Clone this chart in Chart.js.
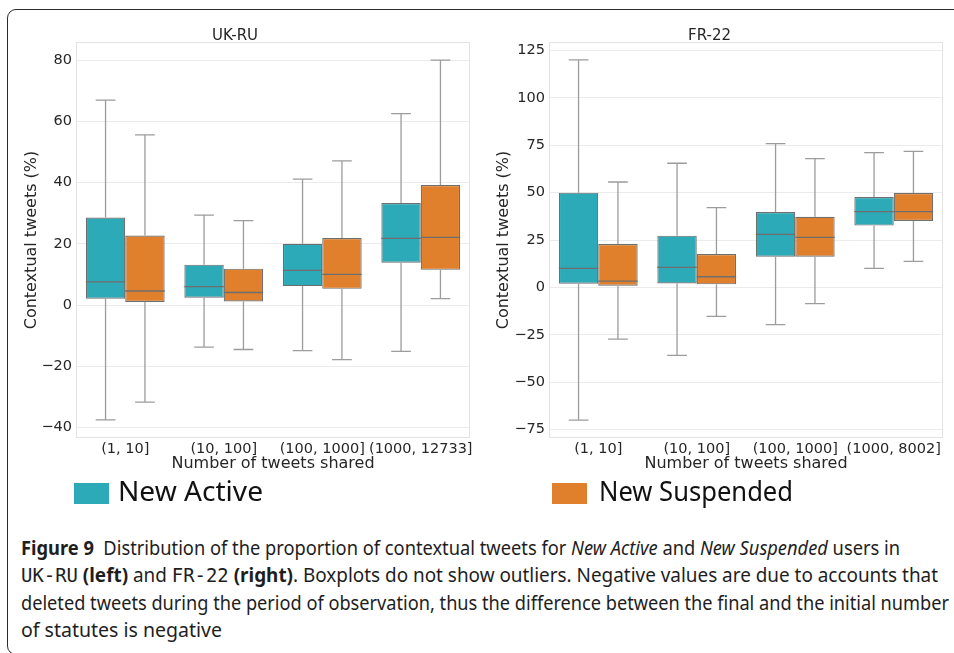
<!DOCTYPE html>
<html><head><meta charset="utf-8">
<script src="https://cdn.jsdelivr.net/npm/chart.js@4.4.0/dist/chart.umd.min.js"></script>
<style>
html,body{margin:0;padding:0;background:#fff;width:954px;height:653px;overflow:hidden;position:relative;}
#frame{position:absolute;left:7px;top:9px;width:1000px;height:646px;border:1.5px solid #2b2b2b;border-radius:9px;box-sizing:border-box;}
canvas{position:absolute;top:0;}
#c1{left:0px}
#c2{left:476px}
.sw{position:absolute;width:35px;height:21px;}
.lt{position:absolute;font-family:"Noto Sans";font-size:28px;line-height:28px;white-space:nowrap;color:#111;transform-origin:0 0;}
.cap{position:absolute;left:21px;font-family:"Noto Sans";font-size:19px;line-height:27px;white-space:nowrap;color:#1e1e1e;transform-origin:0 0;}
.mono{font-family:"DejaVu Sans Mono";}
</style></head>
<body>
<div id="frame"></div>
<canvas id="c1" width="480" height="480"></canvas>
<canvas id="c2" width="478" height="480"></canvas>

<div class="sw" style="left:74px;top:483px;background:#2caab8"></div>
<div class="lt" data-w="145" style="left:118px;top:476px">New Active</div>
<div class="sw" style="left:552px;top:483px;background:#e0802c"></div>
<div class="lt" data-w="194" style="left:599px;top:476px">New Suspended</div>

<div class="cap" data-w="879" style="top:535px"><b>Figure 9</b>&nbsp; Distribution of the proportion of contextual tweets for <i>New Active</i> and <i>New Suspended</i> users in</div>
<div class="cap" data-w="917" style="top:562px"><span class="mono">UK-RU</span> <b>(left)</b> and <span class="mono">FR-22</span> <b>(right)</b>. Boxplots do not show outliers. Negative values are due to accounts that</div>
<div class="cap" data-w="928" style="top:590px">deleted tweets during the period of observation, thus the difference between the final and the initial number</div>
<div class="cap" data-w="201" style="top:617px">of statutes is negative</div>

<script>
// ---- data ----
const ukCategories = ['(1, 10]', '(10, 100]', '(100, 1000]', '(1000, 12733]'];
const frCategories = ['(1, 10]', '(10, 100]', '(100, 1000]', '(1000, 8002]'];
const seriesNames = ['New Active', 'New Suspended'];

const ukActiveMin = [-37.5, -13.7, -14.9, -15.1];
const ukActiveQ1  = [2.1, 2.4, 6.2, 13.8];
const ukActiveMed = [7.6, 6.0, 11.3, 21.8];
const ukActiveQ3  = [28.6, 13.2, 20.0, 33.3];
const ukActiveMax = [66.9, 29.4, 41.1, 62.5];

const ukSuspMin = [-31.7, -14.5, -17.8, 2.1];
const ukSuspQ1  = [1.0, 1.2, 5.3, 11.5];
const ukSuspMed = [4.6, 4.1, 10.0, 22.1];
const ukSuspQ3  = [22.7, 11.9, 21.9, 39.2];
const ukSuspMax = [55.6, 27.6, 47.1, 80.0];

const frActiveMin = [-70.1, -35.9, -19.7, 10.0];
const frActiveQ1  = [1.9, 2.1, 16.2, 32.6];
const frActiveMed = [10.0, 10.6, 28.0, 40.0];
const frActiveQ3  = [50.0, 27.3, 39.8, 47.7];
const frActiveMax = [120.1, 65.5, 75.9, 71.1];

const frSuspMin = [-27.3, -15.3, -8.6, 13.7];
const frSuspQ1  = [0.9, 1.6, 16.2, 35.0];
const frSuspMed = [3.3, 5.6, 26.4, 40.0];
const frSuspQ3  = [22.9, 17.6, 37.3, 49.8];
const frSuspMax = [55.6, 42.1, 68.0, 71.8];

const ukTicks = [-40, -20, 0, 20, 40, 60, 80];
const frTicks = [-75, -50, -25, 0, 25, 50, 75, 100, 125];
const ukRange = [-43.4, 85.9];
const frRange = [-79.5, 129.5];

// ---- styles ----
const FONT = 'DejaVu Sans';
const TXT = '#262626';
const colors = ['#2caab8', '#e0802c'];
const boxEdge = '#6e6e6e';
const whiskerColor = '#9c9c9c';

// fit caption/legend widths
document.querySelectorAll('[data-w]').forEach(el => {
  const nat = el.getBoundingClientRect().width;
  el.style.transform = 'scaleX(' + (parseFloat(el.dataset.w) / nat) + ')';
});

const boxPlugin = {
  id: 'boxExtras',
  beforeDatasetsDraw(chart) {
    const a = chart.chartArea, ctx = chart.ctx;
    ctx.save();
    ctx.strokeStyle = '#e3e3e3';
    ctx.lineWidth = 1;
    ctx.strokeRect(a.left + 0.5, a.top + 0.5, a.right - a.left - 1, a.bottom - a.top - 1);
    ctx.restore();
  },
  afterDatasetsDraw(chart) {
    const ctx = chart.ctx, y = chart.scales.y;
    const stats = chart.options.plugins.boxExtras.stats;
    ctx.save();
    chart.data.datasets.forEach((ds, i) => {
      const meta = chart.getDatasetMeta(i);
      const s = stats[i];
      meta.data.forEach((el, j) => {
        const x = el.x, w = el.width;
        const pMin = y.getPixelForValue(s.min[j]), pMax = y.getPixelForValue(s.max[j]);
        const pQ1 = y.getPixelForValue(s.q1[j]), pQ3 = y.getPixelForValue(s.q3[j]);
        const pMed = y.getPixelForValue(s.med[j]);
        ctx.strokeStyle = whiskerColor;
        ctx.lineWidth = 1.3;
        ctx.beginPath();
        ctx.moveTo(x, pQ3); ctx.lineTo(x, pMax);
        ctx.moveTo(x, pQ1); ctx.lineTo(x, pMin);
        ctx.moveTo(x - w / 4, pMax); ctx.lineTo(x + w / 4, pMax);
        ctx.moveTo(x - w / 4, pMin); ctx.lineTo(x + w / 4, pMin);
        ctx.stroke();
        ctx.strokeStyle = boxEdge;
        ctx.lineWidth = 1.3;
        ctx.beginPath();
        ctx.moveTo(x - w / 2, pMed); ctx.lineTo(x + w / 2, pMed);
        ctx.stroke();
      });
    });
    ctx.restore();
  }
};

function fmt(v) { return v < 0 ? '\u2212' + Math.abs(v) : String(v); }

function makeChart(id, title, cats, stats, ticks, range, yW, padR, yTitlePad) {
  return new Chart(document.getElementById(id), {
    type: 'bar',
    data: {
      labels: cats,
      datasets: stats.map((s, i) => ({
        label: seriesNames[i],
        data: s.q1.map((q, j) => [q, s.q3[j]]),
        backgroundColor: colors[i],
        borderColor: boxEdge,
        borderWidth: 1.2,
        borderSkipped: false,
        categoryPercentage: 0.8,
        barPercentage: 1.0
      }))
    },
    options: {
      responsive: false,
      animation: false,
      devicePixelRatio: 1,
      layout: { padding: { left: 0, right: padR, top: 0, bottom: 7 } },
      plugins: {
        legend: { display: false },
        tooltip: { enabled: false },
        title: {
          display: true, text: title, color: TXT,
          font: { family: FONT, size: 15, weight: 'normal', lineHeight: 1.0 },
          padding: { top: 29, bottom: -2 }
        },
        boxExtras: { stats: stats }
      },
      scales: {
        x: {
          type: 'category',
          grid: { display: false, drawTicks: false },
          border: { display: false },
          ticks: { color: TXT, font: { family: FONT, size: 14.5 }, padding: 3, autoSkip: false, maxRotation: 0 },
          title: { display: true, text: 'Number of tweets shared', color: TXT,
                   font: { family: FONT, size: 16 }, padding: { top: 0, bottom: 0 } },
          afterFit(s) { s.height = 35; }
        },
        y: {
          min: range[0], max: range[1],
          grid: { color: '#ebebeb', lineWidth: 1, drawTicks: false },
          border: { display: false },
          ticks: { color: TXT, font: { family: FONT, size: 14.5 }, padding: 4, callback: v => fmt(v) },
          afterBuildTicks(s) { s.ticks = ticks.map(v => ({ value: v })); },
          title: { display: true, text: 'Contextual tweets (%)', color: TXT,
                   font: { family: FONT, size: 16 }, padding: { top: yTitlePad, bottom: 0 } },
          afterFit(s) { s.width = yW; }
        }
      }
    },
    plugins: [boxPlugin]
  });
}

const ukStats = [
  { min: ukActiveMin, q1: ukActiveQ1, med: ukActiveMed, q3: ukActiveQ3, max: ukActiveMax },
  { min: ukSuspMin, q1: ukSuspQ1, med: ukSuspMed, q3: ukSuspQ3, max: ukSuspMax }
];
const frStats = [
  { min: frActiveMin, q1: frActiveQ1, med: frActiveMed, q3: frActiveQ3, max: frActiveMax },
  { min: frSuspMin, q1: frSuspQ1, med: frSuspMed, q3: frSuspQ3, max: frSuspMax }
];

makeChart('c1', 'UK-RU', ukCategories, ukStats, ukTicks, ukRange, 76, 10, 22);
makeChart('c2', 'FR-22', frCategories, frStats, frTicks, frRange, 73, 11, 18.7);
</script>
</body></html>
